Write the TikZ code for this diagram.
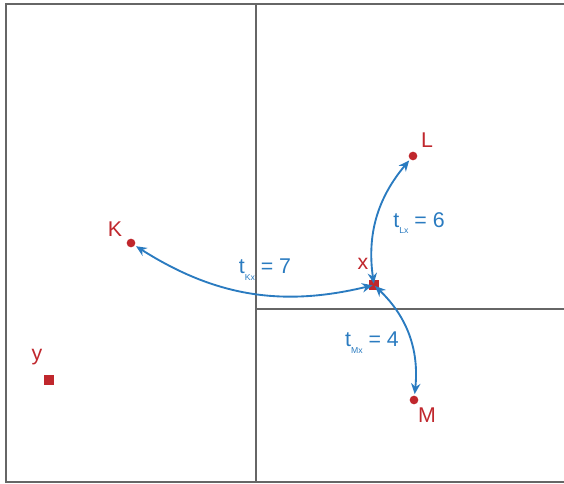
\documentclass[tikz,border=0pt]{standalone}
\usepackage{fontspec}
\setmainfont{Liberation Sans}
\usepackage{xcolor}
\usetikzlibrary{arrows.meta,positioning}
\definecolor{ptred}{HTML}{C0272D}
\definecolor{lnblue}{HTML}{2A7BC0}
\definecolor{gridgray}{HTML}{666666}
\newcommand{\tsub}[1]{t\raisebox{-0.6ex}{\fontsize{6.5}{7}\selectfont #1}}

\begin{document}
\begin{tikzpicture}[
    x=0.75pt, y=-0.75pt,
    >=Stealth,
    cell/.style={draw=gridgray, line width=2pt},
    dot/.style={circle, fill=ptred, inner sep=0pt, minimum size=6.5pt},
    sq/.style={rectangle, fill=ptred, inner sep=0pt, minimum size=8pt},
    ptlabel/.style={text=ptred, font=\fontsize{16}{18}\selectfont, inner sep=0pt},
    cost/.style={text=lnblue, font=\fontsize{16}{18}\selectfont, inner sep=0pt},
    link/.style={draw=lnblue, line width=1.4pt, {Stealth[length=8pt,width=7pt]}-{Stealth[length=8pt,width=7pt]}, shorten <=1pt, shorten >=1pt}
]
\useasboundingbox (0,0) rectangle (564,484);
% grid cells
\coordinate (tl) at (6,4);
\coordinate (bl) at (6,482);
\coordinate (tr) at (564,4);
\coordinate (br) at (564,482);
\coordinate (vtop) at (256,4);
\coordinate (vbot) at (256,482);
\coordinate (hleft) at (256,309);
\coordinate (hright) at (564,309);
\draw[cell] (tr) -- (tl) -- (bl) -- (br);
\draw[cell] (vtop) -- (vbot);
\draw[cell] (hleft) -- (hright);
% points
\node[dot] (K) at (131,243) {};
\node[dot] (L) at (413,156) {};
\node[dot] (M) at (414,400) {};
\node[sq] (x) at (374,285) {};
\node[sq] (y) at (49,380) {};
\node[ptlabel] at (115,229) {K};
\node[ptlabel] at (427,140) {L};
\node[ptlabel] at (427,415) {M};
\node[ptlabel] at (363,264) {x};
\node[ptlabel] at (37,357) {y};
% links
\draw[link] (x.center) to[bend left=23] (K);
\draw[link] (x.center) to[bend left=24] (L);
\draw[link] (x.center) to[bend left=26] (M);
\node[cost] (costK) at (265,270) {\tsub{Kx} = 7};
\node[cost] (costL) at (419,223) {\tsub{Lx} = 6};
\node[cost] (costM) at (372,343) {\tsub{Mx} = 4};
\end{tikzpicture}
\end{document}
